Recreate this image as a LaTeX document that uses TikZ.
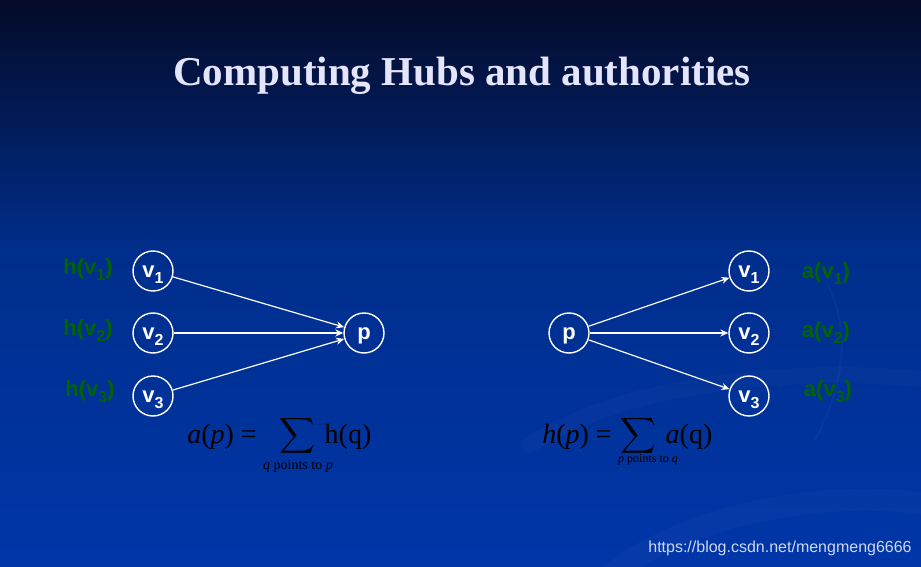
\documentclass[tikz,border=0pt]{standalone}
\usepackage{fontspec}
\usepackage{exscale}
\setmainfont{Liberation Serif}
\newfontfamily\sansf{Liberation Sans}
\usetikzlibrary{arrows.meta}
\definecolor{bgtop}{RGB}{4,10,40}
\definecolor{bgmid}{RGB}{0,46,140}
\definecolor{bgbot}{RGB}{0,54,168}
\definecolor{titlecol}{RGB}{228,228,250}
\definecolor{lblgreen}{RGB}{0,100,0}
\definecolor{markcol}{RGB}{205,215,240}
\newcommand\vsub[1]{v\raisebox{-6pt}{\fontsize{16}{16}\selectfont #1}}
\begin{document}
\begin{tikzpicture}[x=1pt,y=-1pt,
  vtx/.style={circle,draw=white,line width=1.4pt,minimum size=40pt,inner sep=0pt,text=white,
    text height=12pt,text depth=0pt,
    font=\sansf\bfseries\fontsize{22}{22}\selectfont},
  lbl/.style={text=lblgreen,font=\sansf\bfseries\fontsize{22}{22}\selectfont,inner sep=0pt},
  edge/.style={draw=white,line width=1.2pt,-{Stealth[length=8pt,width=7pt]}},
  frm/.style={text=black,font=\fontsize{28}{28}\selectfont,inner sep=0pt},
  swirl/.style={draw=white,line cap=round}
]
\useasboundingbox (0,0) rectangle (921,567);
\shade[top color=bgtop,bottom color=bgmid] (0,0) rectangle (921,251);
\shade[top color=bgmid,bottom color=bgbot] (0,250) rectangle (921,567);
% faint background swirl
\draw[swirl,opacity=0.025,line width=16pt] (530,445) .. controls (620,385) and (790,365) .. (930,380);
\draw[swirl,opacity=0.03,line width=2pt] (828,285) .. controls (850,330) and (845,385) .. (815,440);
\draw[swirl,opacity=0.022,line width=22pt] (610,575) .. controls (700,505) and (850,490) .. (930,505);

\node[text=titlecol,font=\bfseries\fontsize{41}{41}\selectfont,inner sep=0pt] (title) at (462,76) {Computing Hubs and authorities};

% left graph
\node[vtx] (v1) at (153,271) {\vsub{1}};
\node[vtx] (v2) at (153,333) {\vsub{2}};
\node[vtx] (v3) at (153,396) {\vsub{3}};
\node[vtx] (p) at (364,333) {p};
\node[lbl] (h1) at (88,270) {h(\vsub{1})};
\node[lbl] (h2) at (88,331) {h(\vsub{2})};
\node[lbl] (h3) at (90,392) {h(\vsub{3})};
\draw[edge] (v1) -- (p);
\draw[edge] (v2) -- (p);
\draw[edge] (v3) -- (p);

% right graph
\node[vtx] (q) at (569,333) {p};
\node[vtx] (w1) at (749,271) {\vsub{1}};
\node[vtx] (w2) at (749,333) {\vsub{2}};
\node[vtx] (w3) at (749,396) {\vsub{3}};
\node[lbl] (a1) at (826,274) {a(\vsub{1})};
\node[lbl] (a2) at (826,333) {a(\vsub{2})};
\node[lbl] (a3) at (828,392) {a(\vsub{3})};
\draw[edge] (q) -- (w1);
\draw[edge] (q) -- (w2);
\draw[edge] (q) -- (w3);

% formulas
\node[frm] (fa) at (222,437) {\textit{a}(\textit{p}) =};
\node[frm,font=\fontsize{24}{24}\selectfont] (sa) at (297,436) {$\displaystyle\sum$};
\node[frm] (ha) at (348,437) {h(q)};
\node[frm,font=\fontsize{14}{14}\selectfont] (qa) at (298,466) {\textit{q} points to \textit{p}};

\node[frm] (fh) at (577,437) {\textit{h}(\textit{p}) =};
\node[frm,font=\fontsize{24}{24}\selectfont] (sh) at (638,436) {$\displaystyle\sum$};
\node[frm] (ah) at (689,437) {\textit{a}(q)};
\node[frm,font=\fontsize{12}{12}\selectfont] (pa) at (648,460) {\textit{p} points to \textit{q}};

\node[text=markcol,font=\sansf\fontsize{16}{16}\selectfont,inner sep=0pt] (mark) at (780,548) {https://blog.csdn.net/mengmeng6666};
\end{tikzpicture}
\end{document}
